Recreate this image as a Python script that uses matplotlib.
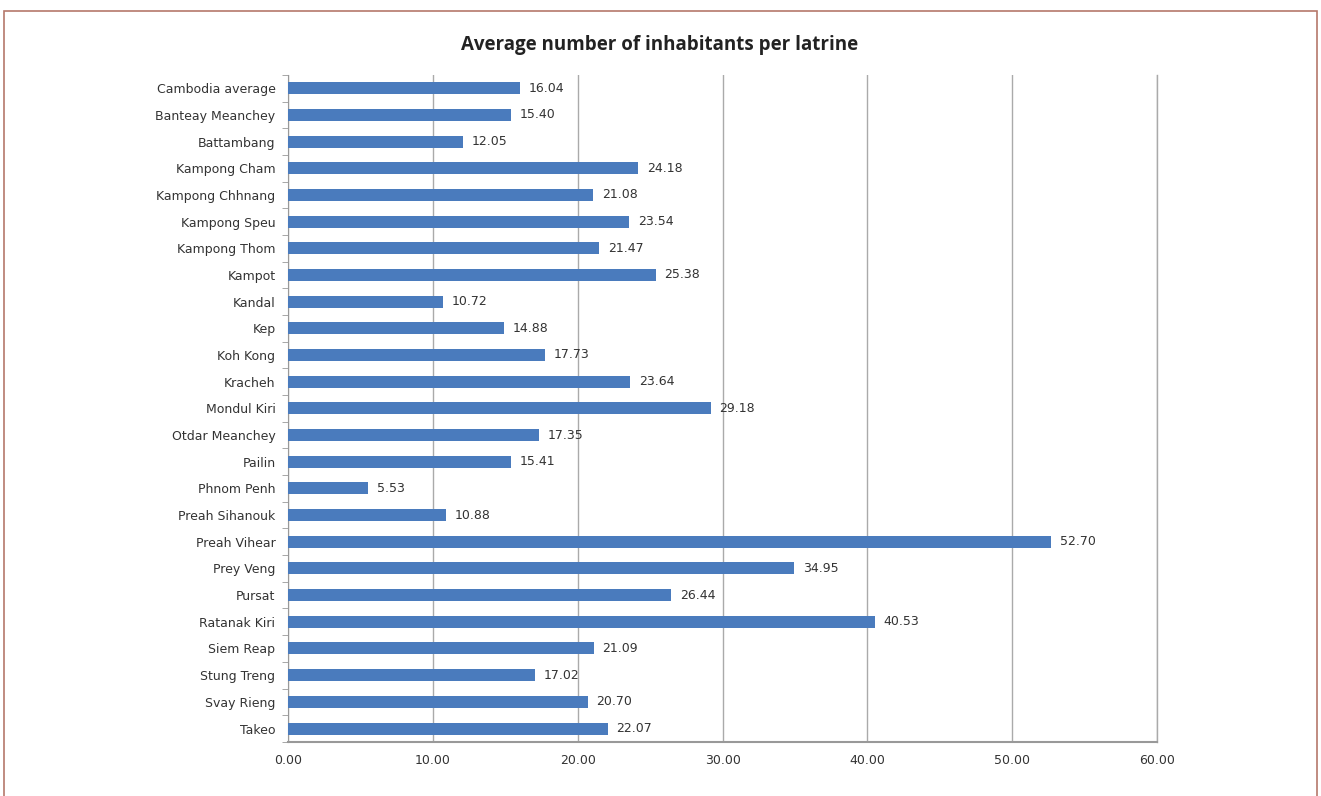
import matplotlib.pyplot as plt
from matplotlib.patches import Rectangle

provinces = ["Cambodia average", "Banteay Meanchey", "Battambang", "Kampong Cham",
             "Kampong Chhnang", "Kampong Speu", "Kampong Thom", "Kampot", "Kandal",
             "Kep", "Koh Kong", "Kracheh", "Mondul Kiri", "Otdar Meanchey", "Pailin",
             "Phnom Penh", "Preah Sihanouk", "Preah Vihear", "Prey Veng", "Pursat",
             "Ratanak Kiri", "Siem Reap", "Stung Treng", "Svay Rieng", "Takeo"]
inhabitants = [16.04, 15.40, 12.05, 24.18, 21.08, 23.54, 21.47, 25.38, 10.72,
               14.88, 17.73, 23.64, 29.18, 17.35, 15.41, 5.53, 10.88, 52.70,
               34.95, 26.44, 40.53, 21.09, 17.02, 20.70, 22.07]
xticks = [0, 10, 20, 30, 40, 50, 60]

plt.rcParams['font.family'] = ['DejaVu Sans']

fig = plt.figure(figsize=(13.21, 7.96), dpi=100)
ax = fig.add_axes([0.218, 0.068, 0.658, 0.838])

y = list(range(len(provinces)))
ax.barh(y, inhabitants, height=0.45, color="#4a7bbd", zorder=3)
for yi, v in zip(y, inhabitants):
    ax.text(v + 0.6, yi, f"{v:.2f}", va="center", ha="left", fontsize=9, color="#333333")

ax.set_yticks(y)
ax.set_yticklabels(provinces, fontsize=9, color="#333333")
ax.set_ylim(len(provinces) - 0.5, -0.5)
ax.set_xlim(0, 60)
ax.set_xticks(xticks)
ax.set_xticklabels([f"{t:.2f}" for t in xticks], fontsize=9, color="#333333")
ax.tick_params(axis="y", length=0, pad=9)
ax.tick_params(axis="x", length=0, pad=9)
# small ticks between categories on the left spine
ax.set_yticks([i + 0.5 for i in range(-1, len(provinces))], minor=True)
ax.tick_params(axis="y", which="minor", length=4, color="#999999")
ax.grid(axis="x", color="#aaaaaa", linewidth=1, zorder=0)
ax.axvline(60, color="#aaaaaa", linewidth=1, zorder=0, clip_on=False)
for s in ["top", "right"]:
    ax.spines[s].set_visible(False)
ax.spines["left"].set_color("#999999")
ax.spines["bottom"].set_color("#999999")
ax.spines["bottom"].set_linewidth(1.5)

fig.text(0.4995, 0.943, "Average number of inhabitants per latrine",
         ha="center", va="center", fontsize=13.5, fontweight="bold",
         family=["Open Sans", "DejaVu Sans"], color="#222222")

fig.patches.append(Rectangle((0.003, -0.01), 0.994, 0.996, transform=fig.transFigure,
                             fill=False, edgecolor="#b5786b", linewidth=1.2))

fig.savefig("out.png", dpi=100)
